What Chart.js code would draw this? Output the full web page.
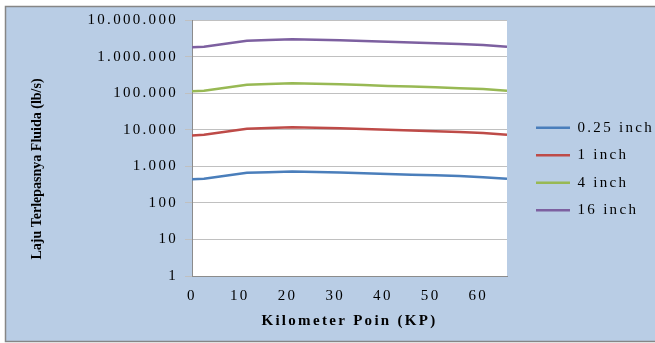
<!DOCTYPE html>
<html>
<head>
<meta charset="utf-8">
<script src="https://cdn.jsdelivr.net/npm/chart.js@4.4.1/dist/chart.umd.min.js"></script>
<style>
  html, body { margin: 0; padding: 0; background: #fff; }
  canvas { display: block; }
</style>
</head>
<body>
<canvas id="chart" width="655" height="343"></canvas>
<script>
// kilometer poin (x) and release rate per hole size (lb/s)
const kp = [0, 2.5, 11.5, 16, 21, 26, 31, 36, 41, 46, 51, 56, 61, 66];
const rate025 = [440, 455, 665, 690, 720, 700, 680, 650, 620, 590, 565, 540, 505, 455];
const rate1 = [7000, 7300, 10700, 11200, 11700, 11300, 10900, 10400, 9900, 9500, 9100, 8600, 8100, 7300];
const rate4 = [112000, 117000, 170000, 178000, 186000, 180000, 174000, 166000, 158000, 151000, 145000, 137000, 129000, 117000];
const rate16 = [1800000, 1870000, 2700000, 2850000, 2970000, 2880000, 2780000, 2650000, 2530000, 2420000, 2320000, 2190000, 2060000, 1870000];

const seriesNames = ['0.25 inch', '1 inch', '4 inch', '16 inch'];
const seriesColors = ['#4a7ebb', '#be4b48', '#98b954', '#7d60a0'];
const xTicks = [0, 10, 20, 30, 40, 50, 60];
const yTicks = [1, 10, 100, 1000, 10000, 100000, 1000000, 10000000];
const xTitle = 'Kilometer Poin (KP)';
const yTitle = 'Laju Terlepasnya Fluida (lb/s)';

const SPACING = '2.3px';
const SERIF = '"Liberation Serif", "Times New Roman", serif';

function fmt(v) {
    return String(v).replace(/\B(?=(\d{3})+(?!\d))/g, '.');
}

const framePlugin = {
    id: 'frame',
    beforeLayout(chart) {
        chart.ctx.letterSpacing = SPACING;
    },
    beforeDraw(chart) {
        const { ctx, chartArea: a } = chart;
        ctx.save();
        ctx.fillStyle = '#ffffff';
        ctx.fillRect(0, 0, chart.width, chart.height);
        ctx.fillStyle = '#b9cde5';
        ctx.fillRect(5, 6, chart.width, chart.height - 7);
        ctx.strokeStyle = '#868686';
        ctx.lineWidth = 1.5;
        ctx.strokeRect(5.5, 6.5, chart.width + 10, chart.height - 8);
        ctx.fillStyle = '#ffffff';
        ctx.fillRect(a.left, a.top, a.right - a.left, a.bottom - a.top);
        ctx.restore();
        ctx.letterSpacing = SPACING;
    },
    afterDraw(chart) {
        const ctx = chart.ctx;
        ctx.save();
        ctx.letterSpacing = '0px';
        ctx.translate(37, 169);
        ctx.rotate(-Math.PI / 2);
        ctx.font = 'bold 14px ' + SERIF;
        ctx.fillStyle = '#000';
        ctx.textAlign = 'center';
        ctx.textBaseline = 'middle';
        ctx.fillText(yTitle, 0, 0);
        ctx.restore();
    }
};

const allRates = [rate025, rate1, rate4, rate16];
const datasets = allRates.map((rates, i) => ({
    label: seriesNames[i],
    data: kp.map((x, j) => ({ x: x, y: rates[j] })),
    borderColor: seriesColors[i],
    backgroundColor: seriesColors[i],
    borderWidth: 2.5,
    pointRadius: 0,
    tension: 0
}));

const ctx = document.getElementById('chart').getContext('2d');
new Chart(ctx, {
    type: 'line',
    data: { datasets: datasets },
    options: {
        responsive: false,
        animation: false,
        layout: { padding: { left: 62, top: 20, right: 0, bottom: 8 } },
        scales: {
            x: {
                type: 'linear',
                min: 0,
                max: 66,
                afterBuildTicks: (s) => { s.ticks = xTicks.map(v => ({ value: v })); },
                afterFit: (s) => { s.height = 59; },
                ticks: {
                    font: { family: SERIF, size: 15 },
                    color: '#000',
                    padding: 11,
                    maxRotation: 0,
                    autoSkip: false
                },
                grid: { display: false, drawTicks: false, tickLength: 0 },
                border: { color: '#8c8c8c', width: 1 },
                title: {
                    display: true,
                    text: xTitle,
                    font: { family: SERIF, size: 15, weight: 'bold' },
                    color: '#000',
                    padding: { top: 8, bottom: 5 }
                }
            },
            y: {
                type: 'logarithmic',
                min: 1,
                max: 10000000,
                afterBuildTicks: (s) => { s.ticks = yTicks.map(v => ({ value: v })); },
                afterFit: (s) => { s.width = 130; },
                ticks: {
                    font: { family: SERIF, size: 15 },
                    color: '#000',
                    padding: 7,
                    callback: (v) => fmt(v)
                },
                grid: { color: '#c0c0c0', lineWidth: 1, tickLength: 7 },
                border: { color: '#8c8c8c', width: 1 }
            },
            gap: {
                type: 'linear',
                position: 'right',
                display: true,
                afterFit: (s) => { s.width = 16.5; },
                ticks: { display: false },
                grid: { display: false },
                border: { display: false }
            }
        },
        plugins: {
            tooltip: { enabled: false },
            legend: {
                position: 'right',
                fullSize: false,
                align: 'center',
                maxWidth: 131.5,
                title: { display: true, text: '', padding: { top: 30, bottom: 0 }, font: { size: 10 } },
                labels: {
                    usePointStyle: true,
                    pointStyle: 'line',
                    pointStyleWidth: 34,
                    padding: 12.5,
                    color: '#000',
                    font: { family: SERIF, size: 15 }
                }
            }
        }
    },
    plugins: [framePlugin]
});
</script>
</body>
</html>
